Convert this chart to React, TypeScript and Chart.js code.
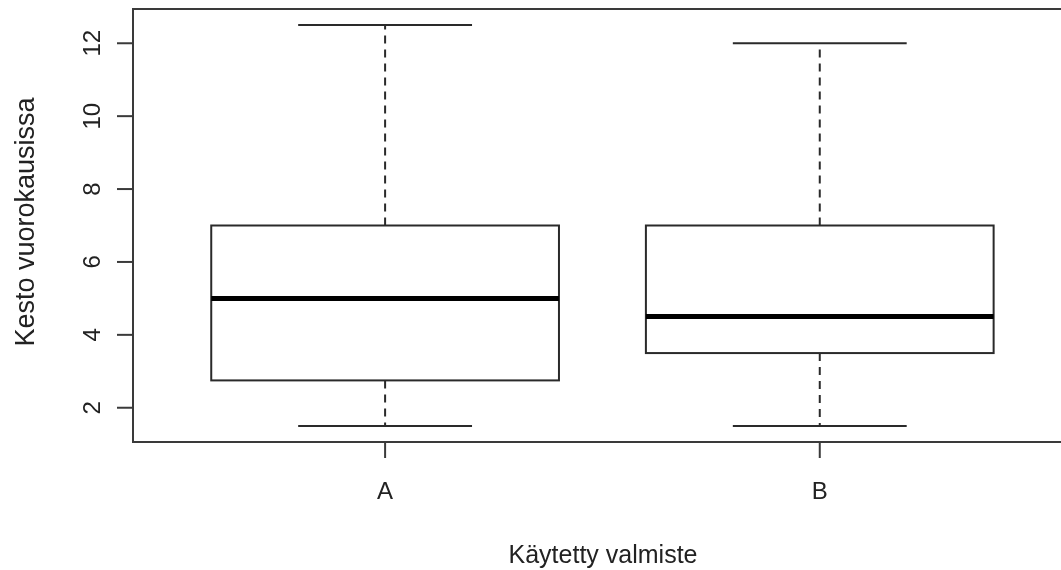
import React, { useEffect, useRef } from "react";
import { Chart, registerables } from "chart.js";

Chart.register(...registerables);

const categories = ["A", "B"];
const categoryPositions = [1, 2];
const whiskerLow = [1.5, 1.5];
const q1 = [2.75, 3.5];
const median = [5, 4.5];
const q3 = [7, 7];
const whiskerHigh = [12.5, 12];
const yTicks = [2, 4, 6, 8, 10, 12];
const yTitle = "Kesto vuorokausissa";
const xTitle = "Käytetty valmiste";

const FONT = "'Liberation Sans', Arial, sans-serif";

const boxPlugin = {
  id: "rBoxplot",
  afterDatasetsDraw(chart: any) {
    const ctx = chart.ctx as CanvasRenderingContext2D;
    const xs = chart.scales.x;
    const ys = chart.scales.y;
    const area = chart.chartArea;
    ctx.save();
    ctx.lineCap = "butt";
    categories.forEach((_, i) => {
      const xc = xs.getPixelForValue(categoryPositions[i]);
      const half = xs.getPixelForValue(categoryPositions[i] + 0.4) - xc;
      const capHalf = xs.getPixelForValue(categoryPositions[i] + 0.2) - xc;
      const yLo = ys.getPixelForValue(whiskerLow[i]);
      const yQ1 = ys.getPixelForValue(q1[i]);
      const yMed = ys.getPixelForValue(median[i]);
      const yQ3 = ys.getPixelForValue(q3[i]);
      const yHi = ys.getPixelForValue(whiskerHigh[i]);
      ctx.strokeStyle = "#2a2a2a";
      ctx.lineWidth = 2;
      ctx.setLineDash([8, 6]);
      ctx.beginPath();
      ctx.moveTo(xc, yQ1);
      ctx.lineTo(xc, yLo);
      ctx.moveTo(xc, yQ3);
      ctx.lineTo(xc, yHi);
      ctx.stroke();
      ctx.setLineDash([]);
      ctx.beginPath();
      ctx.moveTo(xc - capHalf, yLo);
      ctx.lineTo(xc + capHalf, yLo);
      ctx.moveTo(xc - capHalf, yHi);
      ctx.lineTo(xc + capHalf, yHi);
      ctx.stroke();
      ctx.fillStyle = "#ffffff";
      ctx.fillRect(xc - half, yQ3, 2 * half, yQ1 - yQ3);
      ctx.strokeRect(xc - half, yQ3, 2 * half, yQ1 - yQ3);
      ctx.strokeStyle = "#000000";
      ctx.lineWidth = 5;
      ctx.beginPath();
      ctx.moveTo(xc - half, yMed);
      ctx.lineTo(xc + half, yMed);
      ctx.stroke();
    });
    ctx.strokeStyle = "#3a3a3a";
    ctx.lineWidth = 2;
    ctx.beginPath();
    ctx.moveTo(area.right + 5, area.top);
    ctx.lineTo(area.left, area.top);
    ctx.lineTo(area.left, area.bottom);
    ctx.lineTo(area.right + 5, area.bottom);
    ctx.stroke();
    ctx.fillStyle = "#222222";
    ctx.font = `24px ${FONT}`;
    yTicks.forEach((t) => {
      const y = ys.getPixelForValue(t);
      ctx.beginPath();
      ctx.moveTo(area.left - 16, y);
      ctx.lineTo(area.left, y);
      ctx.stroke();
      ctx.save();
      ctx.translate(100, y);
      ctx.rotate(-Math.PI / 2);
      ctx.textAlign = "center";
      ctx.textBaseline = "alphabetic";
      ctx.fillText(String(t), 0, 0);
      ctx.restore();
    });
    categories.forEach((c, i) => {
      const x = xs.getPixelForValue(categoryPositions[i]);
      ctx.beginPath();
      ctx.moveTo(x, area.bottom);
      ctx.lineTo(x, area.bottom + 16);
      ctx.stroke();
      ctx.textAlign = "center";
      ctx.textBaseline = "alphabetic";
      ctx.fillText(c, x, 499);
    });
    ctx.font = `25px ${FONT}`;
    ctx.textAlign = "center";
    ctx.fillText(xTitle, 603, 563);
    ctx.save();
    ctx.font = `27px ${FONT}`;
    ctx.translate(34, 222);
    ctx.rotate(-Math.PI / 2);
    ctx.fillText(yTitle, 0, 0);
    ctx.restore();
    ctx.restore();
  },
};

export default function App() {
  const ref = useRef<HTMLCanvasElement | null>(null);
  useEffect(() => {
    if (!ref.current) return;
    const chart = new Chart(ref.current, {
      type: "scatter",
      data: {
        datasets: [
          {
            label: "median",
            data: categoryPositions.map((x, i) => ({ x, y: median[i] })),
            pointRadius: 0,
            showLine: false,
          },
        ],
      },
      options: {
        animation: false,
        responsive: false,
        devicePixelRatio: 1,
        layout: { padding: { left: 133, top: 9, right: 0, bottom: 128 } },
        plugins: { legend: { display: false }, tooltip: { enabled: false } },
        scales: {
          x: { type: "linear", min: 0.42, max: 2.555, display: false },
          y: { type: "linear", min: 1.06, max: 12.94, display: false },
        },
      },
      plugins: [boxPlugin],
    });
    return () => chart.destroy();
  }, []);
  return (
    <div style={{ position: "fixed", left: 0, top: 0, width: 1061, height: 570, background: "#fff", overflow: "hidden" }}>
      <canvas ref={ref} width={1061} height={570} style={{ display: "block" }} />
    </div>
  );
}
